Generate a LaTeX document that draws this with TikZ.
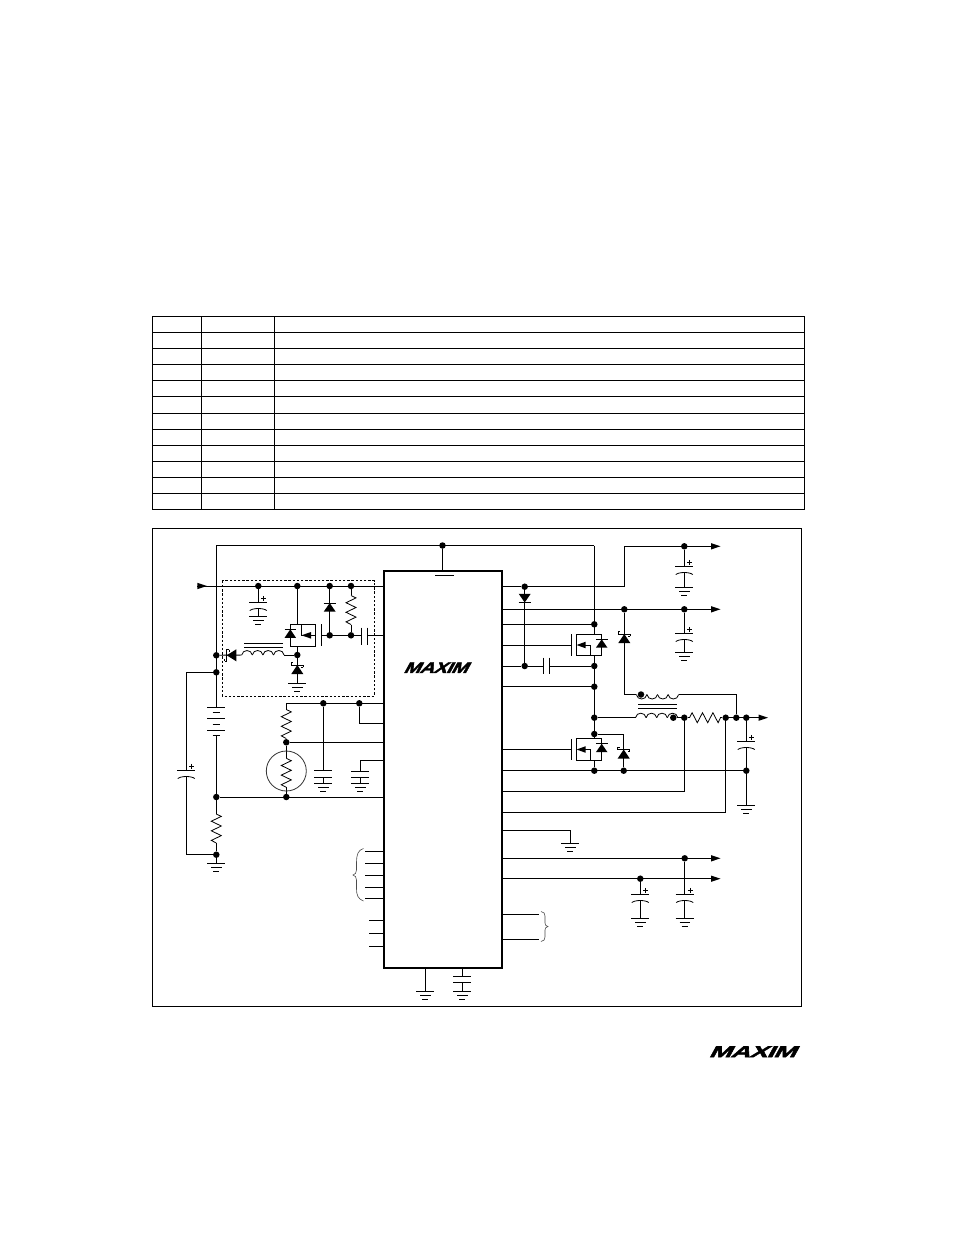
\documentclass[tikz,border=0pt]{standalone}
\usepackage{graphicx}
\usepackage{fontspec}
\setmainfont{Liberation Sans}
\newfontfamily\logofont[FakeBold=2.2,LetterSpace=-3]{Liberation Sans Bold}
\usetikzlibrary{calc}
\tikzset{
  wire/.style={line width=0.95pt,black},
  thin wire/.style={line width=0.8pt,black},
  dot/.style={circle,fill=black,draw=none,inner sep=0pt,minimum size=6.5pt},
  icbox/.style={draw=black,line width=2pt,fill=white,minimum width=118pt,minimum height=397pt,inner sep=0pt,outer sep=0pt},
  logotext/.style={inner sep=0pt,outer sep=0pt,xslant=0.55,transform shape},
  pics/gnd/.style={code={
    \draw[wire] (-9,0)--(9,0) (-5.2,4)--(5.2,4) (-3,8)--(3,8);}},
  pics/pcap/.style={code={
    \draw[wire] (-9,0)--(9,0);
    \draw[thin wire] (-8.5,8.3) .. controls (-5.5,5.5) and (5.5,5.5) .. (8.5,8.3);
    \draw[wire] (5.5,-6.5)--(5.5,-1.5) (3,-4)--(8,-4);}},
  pics/npcap/.style={code={
    \draw[wire] (-9,0)--(9,0) (-9,6.8)--(9,6.8);}},
  pics/rvert/.style={code={
    \draw[thin wire] (0,0)--(5,2.4)--(-5,7.2)--(5,12)--(-5,16.8)--(5,21.6)--(-5,26.4)--(0,29);}},
  pics/rhoriz/.style={code={
    \draw[thin wire] (0,0)--(2.6,-5)--(7.8,5)--(13,-5)--(18.2,5)--(23.4,-5)--(28.6,5)--(31,0);}},
  pics/diode/.style={code={
    \fill[black] (0,0)--(6,8.7)--(-6,8.7)--cycle;
    \draw[wire] (-6,0)--(6,0);}},
  pics/schottky/.style={code={
    \fill[black] (0,0)--(6,9)--(-6,9)--cycle;
    \draw[wire] (-6,-2.6)--(-6,0)--(6,0)--(6,2.2);
    \draw[thin wire] (-6,-2.6)--(-4,-2.6) (6,2.2)--(4,2.2);}},
  pics/coil/.style={code={
    \foreach \k in {0,1,2,3}
      \draw[thin wire] (\k*10.6,0) .. controls (\k*10.6+1,-6) and (\k*10.6+9.6,-6) .. (\k*10.6+10.6,0);}},
  pics/arrowhd/.style={code={
    \fill[black] (0,-3.2)--(9.5,0)--(0,3.2)--cycle;}},
  pics/mos/.style={code={
    % origin = box top-left corner
    \draw[wire] (0,0) rectangle (25.4,21.4);
    \draw[wire] (-5.2,0)--(-5.2,21.4);
    \fill[black] (0.3,10.7)--(9.4,7.4)--(9.4,14)--cycle;
    \draw[wire] (9,10.7)--(14.3,10.7)--(14.3,21.4);
    \fill[black] (25.4,5)--(31.2,13.4)--(19.6,13.4)--cycle;
    \draw[wire] (19.6,5)--(31.2,5);}}
}
\begin{document}
\begin{tikzpicture}[x=1pt,y=-1pt]
\useasboundingbox (0,0) rectangle (954,1235);
\fill[white] (0,0) rectangle (954,1235);

% --- table grid ---
\foreach \r in {0,...,12} \draw[wire] (152,316.5+\r*16.08) -- (804.5,316.5+\r*16.08);
\foreach \c in {152.3,201.5,274.3,804.3} \draw[wire] (\c,316.5) -- (\c,509.5);

% --- circuit frame ---
\draw[wire] (152.5,528.5) rectangle (801.6,1006);

% --- IC ---
\node[icbox,anchor=north west] (ic) at (384,571) {};
\node[logotext,anchor=center] (logoa) at (438,667.7) {\resizebox{64pt}{10.5pt}{\logofont MAXIM}};
\node[logotext,anchor=center] (logob) at (755,1051.7) {\resizebox{87pt}{11pt}{\logofont MAXIM}};

% --- junction dots ---
\foreach \n/\x/\y in {
 vt/442.5/545.5, lsw/216.3/655.3, lcap/216.3/672.3, a1/258.3/586, a2/297.3/586, a3/329.7/586, a4/351/586,
 sw/297.3/655, g1/329.7/635.3, g2/351/635.3, vb/216.3/797, th/286.3/797, gn/216.3/854.7,
 rt/286.3/742.3, r1/323.3/703.3, r2/359.3/703.3,
 b1/524.7/586.7, o1/684.3/546.3, o2/624.3/609.3, o3/684.3/609.3, bst/524.7/666, hs/594.3/624.3,
 hb/594.3/666, hl/594.3/686.7, lx/594.3/717.7, ls/594.3/734, pg/594.3/770.7, sk/623.7/770.7, cg/746.3/770.7,
 cs1/684.3/717.7, cs2/725.7/717.7, vo1/736.3/717.7, vo2/746.3/717.7, mark/673.3/717.7, marka/641/694.5,
 l1/684.7/858.3, l2/640.3/878.7}
 \node[dot] (\n) at (\x,\y) {};

% --- top rail ---
\coordinate (railL) at (216.3,545.5);
\coordinate (railR) at (594.3,545.5);
\draw[wire] (railL) -- (railR);
\draw[wire] (railL) -- (216.3,707.3);
\draw[wire] (railR) -- (594.3,634.3);
\draw[wire] (vt) -- (vt |- ic.north);
\draw[wire] (435,575.2) -- (453.5,575.2);

% --- input ---
\coordinate (inp) at (197.3,586);
\draw[wire] (inp) -- (inp -| ic.west);
\pic at (inp) {arrowhd};

% --- dashed box ---
\draw[line width=0.8pt,black,dash pattern=on 2.4pt off 1.8pt] (222.3,580.7) rectangle (374.3,696);

% --- input cap ---
\coordinate (c1) at (258.3,602.3);
\draw[wire] (a1) -- (c1);
\pic at (c1) {pcap};
\draw[wire] (258.3,608) -- (258.3,616);
\pic at (258.3,616) {gnd};

% --- inner MOSFET ---
\coordinate (m1) at (290.3,624.3);
\draw[wire] (a2) -- (a2 |- m1);
\draw[wire] (m1) rectangle (315.7,646.3);
\fill[black] (290.3,629.3)--(296.1,637.9)--(284.5,637.9)--cycle;
\draw[wire] (284.5,629.3)--(296.1,629.3);
\draw[wire] (301.3,624.3)--(301.3,635.3)--(315.7,635.3);
\fill[black] (301.5,635.3)--(311,632)--(311,638.6)--cycle;
\draw[wire] (321.3,624.3)--(321.3,646.3);
\draw[wire] (297.3,646.3) -- (sw);
\draw[wire] (321.3,635.3) -- (g2) -- (361.7,635.3);
\draw[wire] (361.7,627.7)--(361.7,644.7) (367.3,627.7)--(367.3,644.7);
\draw[wire] (367.3,635.3) -- (367.3,635.3 -| ic.west);

% diode + resistor
\draw[wire] (a3) -- (g1);
\pic at (329.7,603) {diode};
\draw[thin wire] (a4) -- (351,595);
\pic at (351,595.5) {rvert};
\draw[thin wire] (351,624.5) -- (g2);

% inductor and schottky to rail
\coordinate (la) at (241.7,655);
\pic at (la) {coil};
\draw[thin wire] (284,655) -- (sw);
\draw[wire] (244,643.7)--(282.7,643.7) (244,647)--(282.7,647);
\draw[wire] (lsw) -- (la);
\fill[black] (226.7,655.3)--(236.3,649.3)--(236.3,661.3)--cycle;
\draw[wire] (229.4,649.5)--(226.7,649.5)--(226.7,661)--(224.6,661);
\draw[thin wire] (229.4,649.5)--(229.4,651.5) (224.6,661)--(224.6,659);

% catch schottky
\draw[wire] (sw) -- (297.3,683.3);
\pic at (297.3,665) {schottky};
\pic at (297.3,683.3) {gnd};

% --- battery ---
\draw[wire] (207.3,707.3)--(225,707.3) (212.5,712.8)--(220,712.8) (207.3,718.4)--(225,718.4)
  (212.5,724.3)--(220,724.3) (207.3,730)--(225,730) (212.5,735.3)--(220,735.3);
\draw[wire] (216.3,735.3) -- (vb);
\draw[wire] (vb) -- (vb -| ic.west);

% --- sense R to GND ---
\draw[thin wire] (vb) -- (216.3,814);
\pic at (216.3,814) {rvert};
\draw[thin wire] (216.3,843) -- (gn);
\draw[wire] (gn) -- (216.3,863.3);
\pic at (216.3,863.3) {gnd};

% --- left polar cap ---
\coordinate (bl1) at (186.3,672.3);
\coordinate (bl2) at (186.3,854.7);
\draw[wire] (lcap) -- (bl1) -- (186.3,770.3);
\pic at (186.3,770.3) {pcap};
\draw[wire] (186.3,776) -- (bl2) -- (gn);

% --- thermistor network ---
\coordinate (rtop) at (286.3,703.3);
\draw[wire] (rtop) -- (rtop -| ic.west);
\draw[thin wire] (rtop) -- (286.3,709.5);
\pic at (286.3,709.5) {rvert};
\draw[thin wire] (286.3,738.5) -- (rt);
\draw[wire] (rt) -- (rt -| ic.west);
\draw[thin wire] (rt) -- (286.3,758.3);
\pic at (286.3,758.3) {rvert};
\draw[thin wire] (286.3,787.3) -- (th);
\draw[line width=0.8pt,black!80] (286.3,771) circle[radius=20];

% --- R2 cap ---
\draw[wire] (r1) -- (323.3,770.3);
\pic at (323.3,770.3) {npcap};
\draw[wire] (323.3,777) -- (323.3,783.3);
\pic at (323.3,783.3) {gnd};
\coordinate (p1) at (359.3,723.3);
\draw[wire] (r2) -- (p1) -- (p1 -| ic.west);
\coordinate (p2) at (360.3,760.3);
\draw[wire] (p2 -| ic.west) -- (p2) -- (360.3,771);
\pic at (360.3,771) {npcap};
\draw[wire] (360.3,777.5) -- (360.3,783.3);
\pic at (360.3,783.3) {gnd};

% --- left pins ---
\foreach \y in {851.3,863.3,875.3,887.3,898.3} \draw[wire] (365,\y) -- (384,\y);
\foreach \y in {920.3,933.3,946.3} \draw[wire] (369.3,\y) -- (384,\y);
\draw[line width=0.6pt,black!70] (363.5,848.5) .. controls (358,850) and (356.5,855) .. (356.5,862) -- (356.5,870) .. controls (356.5,873) and (355,874.5) .. (353,875) .. controls (355,875.5) and (356.5,877) .. (356.5,880) -- (356.5,889) .. controls (356.5,895) and (358,899) .. (363.5,901);

% --- bottom parts ---
\coordinate (bg) at (425.3,991);
\draw[wire] (bg |- ic.south) -- (bg);
\pic at (bg) {gnd};
\coordinate (bc) at (462.3,976);
\draw[wire] (bc |- ic.south) -- (bc);
\pic at (bc) {npcap};
\draw[wire] (462.3,982.5) -- (462.3,991);
\pic at (462.3,991) {gnd};

% --- right pins, outputs ---
\coordinate (oa) at (711,546.3);
\draw[wire] (b1 -| ic.east) -- (b1) -- (624.3,586.7) -- (624.3,546.3) -- (oa);
\pic at (oa) {arrowhd};
\draw[wire] (o1) -- (684.3,566.3);
\pic at (684.3,566.3) {pcap};
\draw[wire] (684.3,572) -- (684.3,587.7);
\pic at (684.3,587.7) {gnd};

\coordinate (ob) at (711,609.3);
\draw[wire] (ob -| ic.east) -- (ob);
\pic at (ob) {arrowhd};
\draw[wire] (o3) -- (684.3,633.3);
\pic at (684.3,633.3) {pcap};
\draw[wire] (684.3,639) -- (684.3,652.3);
\pic at (684.3,652.3) {gnd};

% boost diode
\draw[wire] (b1) -- (bst);
\pic[yscale=-1] at (524.7,602.5) {diode};
\draw[wire] (bst -| ic.east) -- (bst) -- (543.3,666);
\draw[wire] (543.3,657.7)--(543.3,674.3) (549.3,657.7)--(549.3,674.3);
\draw[wire] (549.3,666) -- (hb);
\draw[wire] (hs -| ic.east) -- (hs);

% high-side FET
\pic at (576.3,634.3) {mos};
\draw[wire] (ic.east |- 0,645.3) -- (571.1,645.3);
\draw[wire] (594.3,655.7) -- (594.3,738.3);
\draw[wire] (hl -| ic.east) -- (hl);

% low-side FET
\pic at (576.3,738.8) {mos};
\draw[wire] (ic.east |- 0,749.5) -- (571.1,749.5);
\draw[wire] (594.3,760.2) -- (pg);
\draw[wire] (pg -| ic.east) -- (cg);

% schottkys
\draw[wire] (o2) -- (624.3,694.5) -- (636.3,694.5);
\pic at (624.3,634) {schottky};
\draw[wire] (ls) -- (623.7,734) -- (sk);
\pic at (623.7,749.5) {schottky};

% transformer
\pic[yscale=-1] at (636.3,694.5) {coil};
\draw[thin wire] (678.6,694.5) -- (736.3,694.5) -- (vo1);
\draw[wire] (638.3,704)--(677,704) (638.3,708)--(677,708);
\pic at (635.5,717.7) {coil};
\draw[wire] (lx) -- (635.5,717.7);
\draw[thin wire] (676.5,717.7) -- (cs1);
\draw[thin wire] (cs1) -- (689.5,717.7);
\pic at (689.5,717.7) {rhoriz};
\draw[thin wire] (720,717.7) -- (cs2);
\coordinate (oc) at (758.5,717.7);
\draw[wire] (cs2) -- (oc);
\pic at (oc) {arrowhd};

% output cap
\draw[wire] (vo2) -- (746.3,741.3);
\pic at (746.3,741.3) {pcap};
\draw[wire] (746.3,747) -- (746.3,805);
\pic at (746.3,805) {gnd};

% sense wires
\coordinate (s1) at (684.3,791.3);
\coordinate (s2) at (725.7,812.3);
\draw[wire] (cs1) -- (s1) -- (s1 -| ic.east);
\draw[wire] (cs2) -- (s2) -- (s2 -| ic.east);

% gnd pin
\coordinate (g3) at (570.3,830.3);
\draw[wire] (g3 -| ic.east) -- (g3) -- (570.3,843.3);
\pic at (570.3,843.3) {gnd};

% lower outputs
\coordinate (od) at (711,858.3);
\coordinate (oe) at (711,878.7);
\draw[wire] (od -| ic.east) -- (od);
\draw[wire] (oe -| ic.east) -- (oe);
\pic at (od) {arrowhd};
\pic at (oe) {arrowhd};
\draw[wire] (l1) -- (684.7,894.3);
\pic at (684.7,894.3) {pcap};
\draw[wire] (684.7,900) -- (684.7,918.7);
\pic at (684.7,918.7) {gnd};
\draw[wire] (l2) -- (640.3,894.3);
\pic at (640.3,894.3) {pcap};
\draw[wire] (640.3,900) -- (640.3,918.7);
\pic at (640.3,918.7) {gnd};

% right pins + brace
\foreach \y in {914.3,939.3} \draw[wire] (502,\y) -- (539,\y);
\draw[line width=0.6pt,black!70] (541,911.5) .. controls (544,912) and (545,913.5) .. (545,916) -- (545,923) .. controls (545,925) and (546,926) .. (548,926.5) .. controls (546,927) and (545,928) .. (545,930) -- (545,937) .. controls (545,939.5) and (544,941) .. (541,941.5);
\end{tikzpicture}
\end{document}
